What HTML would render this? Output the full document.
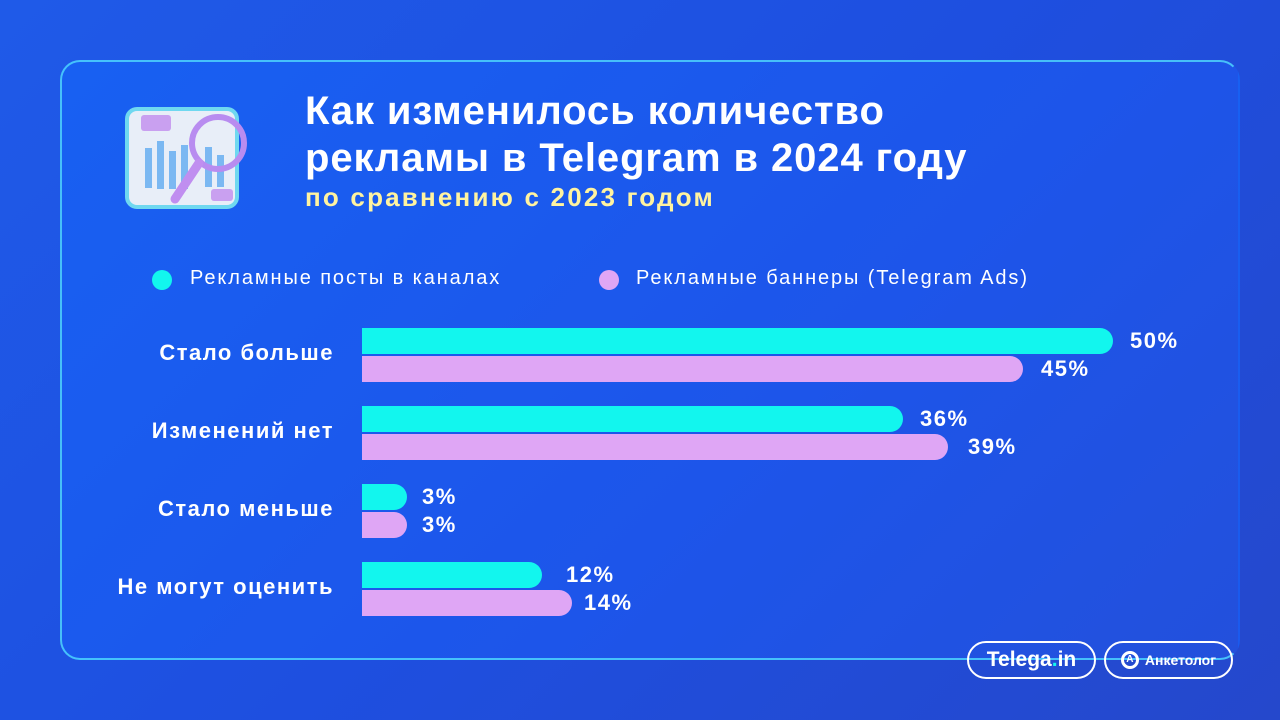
<!DOCTYPE html>
<html><head><meta charset="utf-8"><style>
body{margin:0;width:1280px;height:720px;overflow:hidden;font-family:"Liberation Sans",sans-serif;background:linear-gradient(135deg,#1f5ae8 0%,#1e4fe0 50%,#2548cc 100%);position:relative;color:#fff}
.panel{position:absolute;left:60px;top:60px;width:1180px;height:600px;border-radius:20px;border:2px solid rgba(80,220,255,0.8);border-right-color:rgba(80,180,255,0);background:linear-gradient(135deg,#1860f2 0%,#1d55ea 60%,#2350dc 100%);box-sizing:border-box}
.t{position:absolute;left:305px;font-weight:bold;white-space:nowrap}
.bar{position:absolute;left:362px;height:26px;border-radius:0 13px 13px 0}
.c{background:#12f6ee}.p{background:#dfa6f5}
.lab{position:absolute;right:946px;font-weight:bold;font-size:22px;letter-spacing:1.5px;white-space:nowrap}
.v{position:absolute;font-weight:bold;font-size:22px;letter-spacing:1.5px}
.dot{position:absolute;width:20px;height:20px;border-radius:50%}
.leg{position:absolute;font-size:20px;letter-spacing:1.9px;top:267px}
.logo{position:absolute;top:641px;height:38px;border:2px solid #fff;border-radius:20px;box-sizing:border-box;font-weight:bold;display:flex;align-items:center;justify-content:center}
</style></head><body>
<div class="panel"></div>
<svg style="position:absolute;left:125px;top:103px" width="130" height="108">
<rect x="2" y="6" width="110" height="98" rx="10" fill="#e8eef8" stroke="#6fd8f0" stroke-width="4"/>
<rect x="16" y="12" width="30" height="16" rx="3" fill="#c9a0f0"/>
<rect x="86" y="86" width="22" height="12" rx="3" fill="#c9a0f0"/>
<g fill="#7bb8f2"><rect x="20" y="45" width="7" height="40"/><rect x="32" y="38" width="7" height="48"/><rect x="44" y="48" width="7" height="38"/><rect x="56" y="42" width="7" height="44"/><rect x="80" y="44" width="7" height="40"/><rect x="92" y="52" width="7" height="32"/></g>
<circle cx="93" cy="40" r="26" fill="none" stroke="#b88cf0" stroke-width="6"/>
<line x1="74" y1="60" x2="50" y2="96" stroke="#c08ef0" stroke-width="9" stroke-linecap="round"/>
</svg>
<div class="t" style="top:88px;font-size:40px;line-height:47px;letter-spacing:0.9px">Как изменилось количество<br>рекламы в Telegram в 2024 году</div>
<div class="t" style="top:182px;font-size:26px;letter-spacing:2.2px;color:#fff3a0">по сравнению с 2023 годом</div>
<div class="dot" style="left:152px;top:270px;background:#12f6ee"></div>
<div class="leg" style="left:190px">Рекламные посты в каналах</div>
<div class="dot" style="left:599px;top:270px;background:#dfa6f5"></div>
<div class="leg" style="left:636px">Рекламные баннеры (Telegram Ads)</div>

<div class="lab" style="top:340px">Стало больше</div>
<div class="bar c" style="top:328px;width:751px"></div><div class="v" style="left:1130px;top:328px">50%</div>
<div class="bar p" style="top:356px;width:661px"></div><div class="v" style="left:1041px;top:356px">45%</div>

<div class="lab" style="top:418px">Изменений нет</div>
<div class="bar c" style="top:406px;width:541px"></div><div class="v" style="left:920px;top:406px">36%</div>
<div class="bar p" style="top:434px;width:586px"></div><div class="v" style="left:968px;top:434px">39%</div>

<div class="lab" style="top:496px">Стало меньше</div>
<div class="bar c" style="top:484px;width:45px"></div><div class="v" style="left:422px;top:484px">3%</div>
<div class="bar p" style="top:512px;width:45px"></div><div class="v" style="left:422px;top:512px">3%</div>

<div class="lab" style="top:574px">Не могут оценить</div>
<div class="bar c" style="top:562px;width:180px"></div><div class="v" style="left:566px;top:562px">12%</div>
<div class="bar p" style="top:590px;width:210px"></div><div class="v" style="left:584px;top:590px">14%</div>

<div class="logo" style="left:967px;width:129px;font-size:21px">Telega<span style="color:#12f6ee">.</span>in</div>
<div class="logo" style="left:1104px;width:129px;font-size:14px"><span style="display:inline-block;width:18px;height:18px;border-radius:50%;border:3px solid #fff;box-sizing:border-box;font-size:10px;line-height:12px;text-align:center;margin-right:6px">A</span>Анкетолог</div>
</body></html>
